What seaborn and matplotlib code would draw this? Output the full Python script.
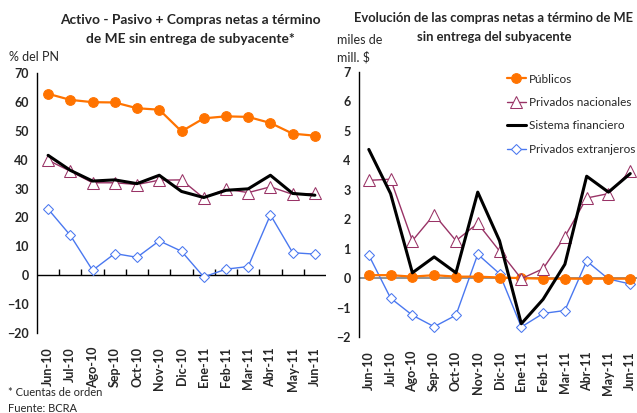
import seaborn as sns
import pandas as pd
import matplotlib.pyplot as plt

meses = ['Jun-10', 'Jul-10', 'Ago-10', 'Sep-10', 'Oct-10', 'Nov-10', 'Dic-10',
         'Ene-11', 'Feb-11', 'Mar-11', 'Abr-11', 'May-11', 'Jun-11']

# panel izquierdo: % del PN
izq_publicos = [62.8, 60.7, 59.9, 59.8, 57.8, 57.3, 49.8, 54.3, 55.0, 54.8, 52.7, 49.0, 48.3]
izq_priv_nac = [39.8, 36.0, 32.0, 32.0, 31.4, 32.9, 33.0, 26.7, 29.8, 28.6, 30.6, 28.0, 28.3]
izq_sistema = [41.5, 36.3, 32.6, 33.0, 31.7, 34.6, 29.0, 26.9, 29.4, 29.9, 34.6, 28.3, 27.7]
izq_priv_ext = [22.9, 13.8, 1.7, 7.5, 6.2, 11.9, 8.3, -0.6, 2.1, 3.0, 20.9, 7.8, 7.3]

# panel derecho: miles de mill. $
der_publicos = [0.1, 0.1, 0.05, 0.1, 0.05, 0.05, 0.02, 0.0, -0.02, -0.02, -0.02, -0.02, -0.02]
der_priv_nac = [3.32, 3.36, 1.27, 2.16, 1.27, 1.86, 0.92, -0.02, 0.32, 1.41, 2.72, 2.87, 3.63]
der_sistema = [4.37, 2.87, 0.18, 0.72, 0.18, 2.92, 1.27, -1.55, -0.72, 0.47, 3.46, 2.92, 3.55]
der_priv_ext = [0.78, -0.68, -1.26, -1.65, -1.26, 0.81, 0.15, -1.66, -1.2, -1.1, 0.58, -0.03, -0.2]

sns.set_theme(style='white')
plt.rcParams['font.family'] = ['Lato', 'DejaVu Sans']

NARANJA = '#ff7300'
BORDO = '#993366'
AZUL = '#4a78f0'

estilos = {
    'Públicos': dict(color=NARANJA, marker='o', markersize=7, lw=1.6,
                     markerfacecolor=NARANJA, markeredgecolor=NARANJA),
    'Privados nacionales': dict(color=BORDO, marker='^', markersize=8, lw=1.0,
                                markerfacecolor='white', markeredgecolor=BORDO),
    'Sistema financiero': dict(color='black', marker=None, lw=2.2),
    'Privados extranjeros': dict(color=AZUL, marker='D', markersize=5.5, lw=1.0,
                                 markerfacecolor='white', markeredgecolor=AZUL),
}


def armar_df(pub, nac, sis, ext):
    pos = list(range(len(meses)))
    partes = []
    for nombre, vals in [('Privados nacionales', nac), ('Sistema financiero', sis),
                         ('Privados extranjeros', ext), ('Públicos', pub)]:
        partes.append(pd.DataFrame({'pos': pos, 'mes': meses, 'valor': vals, 'serie': nombre}))
    return pd.concat(partes, ignore_index=True)


def dibujar(ax, df, orden):
    for nombre in orden:
        sub = df[df['serie'] == nombre]
        sns.lineplot(data=sub, x='pos', y='valor', ax=ax, sort=False,
                     label=nombre, legend=False, **estilos[nombre])


fig = plt.figure(figsize=(6.37, 4.13), dpi=100)
ax1 = fig.add_axes([37 / 637, 1 - 333 / 413, 289 / 637, 260 / 413])
ax2 = fig.add_axes([359 / 637, 1 - 337 / 413, 278 / 637, 265 / 413])

# ---- izquierda
df1 = armar_df(izq_publicos, izq_priv_nac, izq_sistema, izq_priv_ext)
dibujar(ax1, df1, ['Privados extranjeros', 'Privados nacionales', 'Sistema financiero', 'Públicos'])
ax1.set_xlim(-0.5, len(meses) - 0.5)
ax1.set_ylim(-20, 70)
ax1.set_yticks(range(-20, 71, 10))
ax1.axhline(0, color='black', lw=1.0, zorder=1)
eje0 = ax1.secondary_xaxis(20 / 90)
eje0.spines['bottom'].set_visible(False)
eje0.set_xticks([i + 0.5 for i in range(len(meses) - 1)])
eje0.set_xticklabels([])
eje0.tick_params(axis='x', direction='in', length=4, width=1, color='black')

# ---- derecha
df2 = armar_df(der_publicos, der_priv_nac, der_sistema, der_priv_ext)
dibujar(ax2, df2, ['Privados extranjeros', 'Públicos', 'Privados nacionales', 'Sistema financiero'])
ax2.set_xlim(-0.45, 12.31)
ax2.set_ylim(-2, 7)
ax2.set_yticks(range(-2, 8))
ax2.axhline(0, color='#7f7f7f', lw=1.2, zorder=1)

for ax in (ax1, ax2):
    sns.despine(ax=ax, top=True, right=True, bottom=True)
    ax.spines['left'].set_color('black')
    ax.spines['left'].set_linewidth(1.0)
    ax.set_xlabel('')
    ax.set_ylabel('')
    ax.set_xticks(range(len(meses)))
    ax.set_xticklabels(meses, rotation=90, fontsize=9, fontweight='bold')
    ax.tick_params(axis='x', length=0, pad=10)
    ax.tick_params(axis='y', direction='in', length=4, width=1, color='black',
                   labelsize=9, pad=6)
    for t in ax.get_yticklabels():
        t.set_fontweight('bold')

# leyenda
handles, labels = ax2.get_legend_handles_labels()
ord_leg = ['Públicos', 'Privados nacionales', 'Sistema financiero', 'Privados extranjeros']
hmap = dict(zip(labels, handles))
fig.legend([hmap[k] for k in ord_leg], ord_leg, loc='upper left',
           bbox_to_anchor=(496 / 637, 1 - 63 / 413), frameon=False, fontsize=8.5,
           handlelength=1.6, handletextpad=0.3, labelspacing=1.05)

# textos
tit = dict(ha='center', va='center', fontweight='bold')
fig.text(190 / 637, 1 - 20 / 413, 'Activo - Pasivo + Compras netas a término', fontsize=9.9, **tit)
fig.text(190 / 637, 1 - 39 / 413, 'de ME sin entrega de subyacente*', fontsize=9.9, **tit)
fig.text(494 / 637, 1 - 18 / 413, 'Evolución de las compras netas a término de ME', fontsize=9.4, **tit)
fig.text(494 / 637, 1 - 37 / 413, 'sin entrega del subyacente', fontsize=9.4, **tit)
fig.text(9 / 637, 1 - 57 / 413, '% del PN', ha='left', va='center', fontsize=9)
fig.text(337 / 637, 1 - 40 / 413, 'miles de', ha='left', va='center', fontsize=9)
fig.text(337 / 637, 1 - 57 / 413, 'mill. $', ha='left', va='center', fontsize=9)
fig.text(8 / 637, 1 - 392 / 413, '* Cuentas de orden', ha='left', va='center', fontsize=8)
fig.text(8 / 637, 1 - 408 / 413, 'Fuente: BCRA', ha='left', va='center', fontsize=8)

fig.savefig('out.png', dpi=100)
